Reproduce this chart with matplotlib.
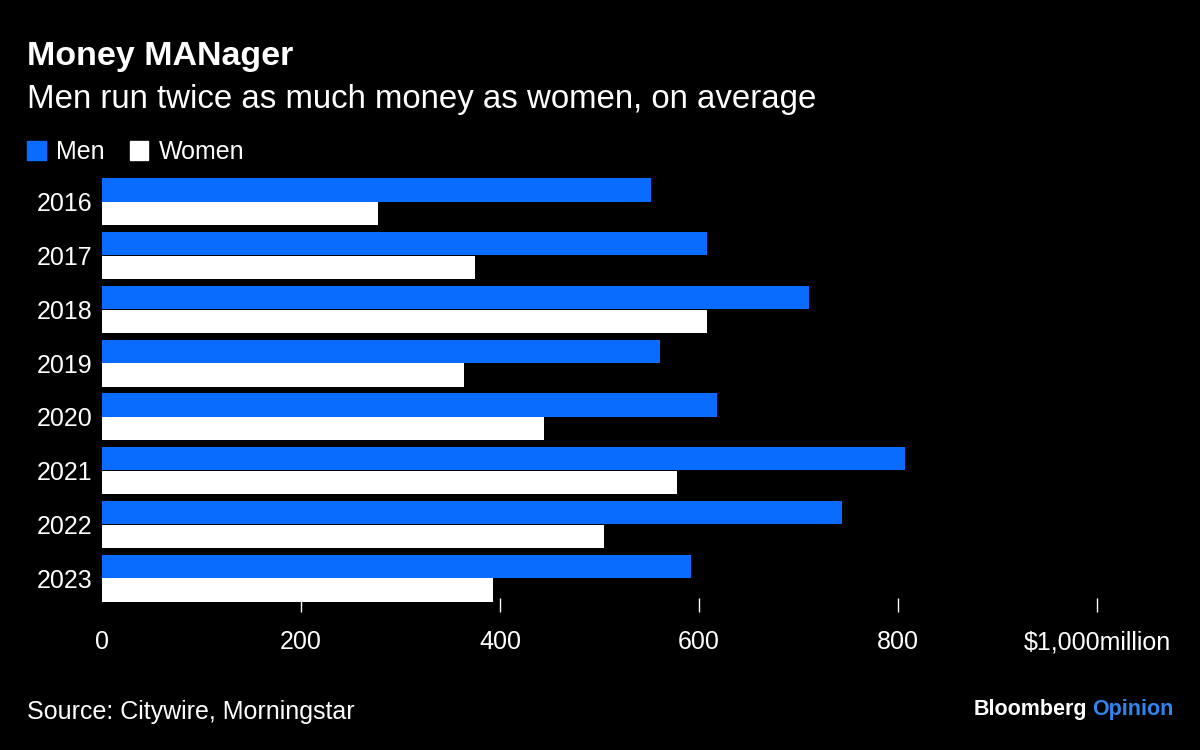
import matplotlib.pyplot as plt
from matplotlib.patches import Patch
import numpy as np

plt.rcParams['font.family'] = ['Liberation Sans', 'DejaVu Sans']

years = ['2016', '2017', '2018', '2019', '2020', '2021', '2022', '2023']
men = [552, 608, 711, 561, 618, 807, 744, 592]
women = [277, 375, 608, 364, 444, 578, 505, 393]
xticks = [0, 200, 400, 600, 800, 1000]
xlabels = ['0', '200', '400', '600', '800', '$1,000million']

blue = '#0a6cff'
bg = 'black'

fig = plt.figure(figsize=(12, 7.5), dpi=100, facecolor=bg)
ax = fig.add_axes([0.085, 0.1933, 0.8292, 0.5734], facecolor=bg)

y = np.arange(len(years))
h = 0.43
ax.barh(y - 0.22, men, height=h, color=blue, label='Men')
ax.barh(y + 0.22, women, height=h, color='white', label='Women')

ax.set_xlim(0, 1000)
ax.set_ylim(len(years) - 0.5, -0.5)
ax.set_yticks(y)
ax.set_yticklabels(years)
ax.set_xticks(xticks)
ax.set_xticklabels(xlabels)
for s in ax.spines.values():
    s.set_visible(False)
ax.tick_params(axis='y', length=0, pad=7, labelsize=18, labelcolor='white')
ax.tick_params(axis='x', direction='inout', length=10, width=1, color='white',
               pad=13, labelsize=18, labelcolor='white')
ax.xaxis.get_major_ticks()[0].tick1line.set_visible(False)

fig.text(0.0225, 0.945, 'Money MANager', color='white', fontsize=24.5,
         fontweight='bold', va='top')
fig.text(0.0225, 0.888, 'Men run twice as much money as women, on average',
         color='white', fontsize=23.8, va='top')

handles = [Patch(color=blue, label='Men'), Patch(color='white', label='Women')]
fig.legend(handles=handles, loc='center left', bbox_to_anchor=(0.004, 0.797),
           ncol=2, frameon=False, fontsize=18, labelcolor='white',
           handlelength=0.75, handleheight=0.75, handletextpad=0.4,
           columnspacing=1.0)

fig.text(0.0225, 0.05, 'Source: Citywire, Morningstar', color='white',
         fontsize=18, va='center')
fig.text(0.978, 0.054, 'Opinion', color='#2f86f0', fontsize=15.5,
         fontweight='bold', ha='right', va='center')
fig.text(0.906, 0.054, 'Bloomberg', color='white', fontsize=15.5,
         fontweight='bold', ha='right', va='center')

fig.savefig('out.png', dpi=100, facecolor=bg)
